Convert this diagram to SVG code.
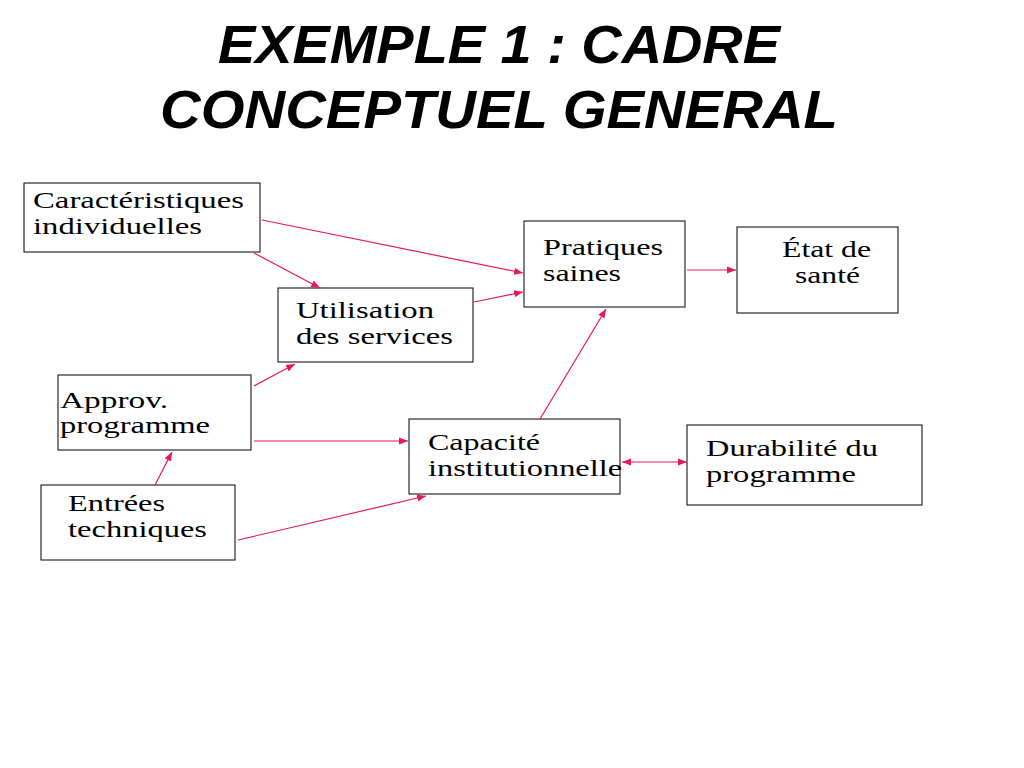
<svg xmlns="http://www.w3.org/2000/svg" width="1024" height="768" viewBox="0 0 1024 768">
<style>
.b{fill:#fff;stroke:#000;stroke-width:1}
.t{font-family:"Liberation Serif",serif;font-size:24px;fill:#000}
.h{font-family:"Liberation Sans",Arial,sans-serif;font-size:54px;font-weight:bold;font-style:italic;fill:#000}
.c{stroke:#e8175d;stroke-width:1.2;fill:none}
</style>
<defs>
<marker id="a" viewBox="0 0 10 10" refX="10" refY="5" markerWidth="9" markerHeight="9" markerUnits="userSpaceOnUse" orient="auto-start-reverse"><path d="M0,1 L10,5 L0,9 z" fill="#e8175d"/></marker>
</defs>
<rect width="1024" height="768" fill="#fff"/>
<text class="h" x="218" y="63" textLength="562" lengthAdjust="spacingAndGlyphs">EXEMPLE 1 : CADRE</text>
<text class="h" x="160" y="128" textLength="678" lengthAdjust="spacingAndGlyphs">CONCEPTUEL GENERAL</text>
<g id="n1"><rect class="b" x="24" y="183" width="236" height="69"/><text class="t" x="33" y="208" textLength="211" lengthAdjust="spacingAndGlyphs">Caractéristiques</text><text class="t" x="33" y="234" textLength="169" lengthAdjust="spacingAndGlyphs">individuelles</text></g>
<g id="n2"><rect class="b" x="524" y="221" width="161" height="86"/><text class="t" x="543" y="255" textLength="120" lengthAdjust="spacingAndGlyphs">Pratiques</text><text class="t" x="543" y="281" textLength="78" lengthAdjust="spacingAndGlyphs">saines</text></g>
<g id="n3"><rect class="b" x="737" y="227" width="161" height="86"/><text class="t" x="782" y="257" textLength="89" lengthAdjust="spacingAndGlyphs">État de</text><text class="t" x="795" y="283" textLength="65" lengthAdjust="spacingAndGlyphs">santé</text></g>
<g id="n4"><rect class="b" x="278" y="288" width="195" height="74"/><text class="t" x="296" y="318" textLength="138" lengthAdjust="spacingAndGlyphs">Utilisation</text><text class="t" x="296" y="344" textLength="157" lengthAdjust="spacingAndGlyphs">des services</text></g>
<g id="n5"><rect class="b" x="58" y="375" width="193" height="75"/><text class="t" x="60" y="408" textLength="108" lengthAdjust="spacingAndGlyphs">Approv.</text><text class="t" x="60" y="433" textLength="150" lengthAdjust="spacingAndGlyphs">programme</text></g>
<g id="n6"><rect class="b" x="409" y="419" width="211" height="75"/><text class="t" x="428" y="450" textLength="112" lengthAdjust="spacingAndGlyphs">Capacité</text><text class="t" x="428" y="476" textLength="194" lengthAdjust="spacingAndGlyphs">institutionnelle</text></g>
<g id="n7"><rect class="b" x="687" y="425" width="235" height="80"/><text class="t" x="706" y="456" textLength="172" lengthAdjust="spacingAndGlyphs">Durabilité du</text><text class="t" x="706" y="482" textLength="150" lengthAdjust="spacingAndGlyphs">programme</text></g>
<g id="n8"><rect class="b" x="41" y="485" width="194" height="75"/><text class="t" x="68" y="511" textLength="97" lengthAdjust="spacingAndGlyphs">Entrées</text><text class="t" x="68" y="537" textLength="139" lengthAdjust="spacingAndGlyphs">techniques</text></g>
<g id="connectors">
<line class="c" x1="262" y1="220" x2="523" y2="273" marker-end="url(#a)"/>
<line class="c" x1="254" y1="253" x2="320" y2="288" marker-end="url(#a)"/>
<line class="c" x1="474" y1="302" x2="523" y2="292" marker-end="url(#a)"/>
<line class="c" x1="687" y1="270" x2="736" y2="270" marker-end="url(#a)"/>
<line class="c" x1="254" y1="386" x2="295" y2="364" marker-end="url(#a)"/>
<line class="c" x1="254" y1="441" x2="408" y2="441" marker-end="url(#a)"/>
<line class="c" x1="540" y1="419" x2="606" y2="309" marker-end="url(#a)"/>
<line class="c" x1="622" y1="462" x2="687" y2="462" marker-start="url(#a)" marker-end="url(#a)"/>
<line class="c" x1="155" y1="485" x2="172" y2="452" marker-end="url(#a)"/>
<line class="c" x1="238" y1="540" x2="426" y2="496" marker-end="url(#a)"/>
</g>
</svg>
